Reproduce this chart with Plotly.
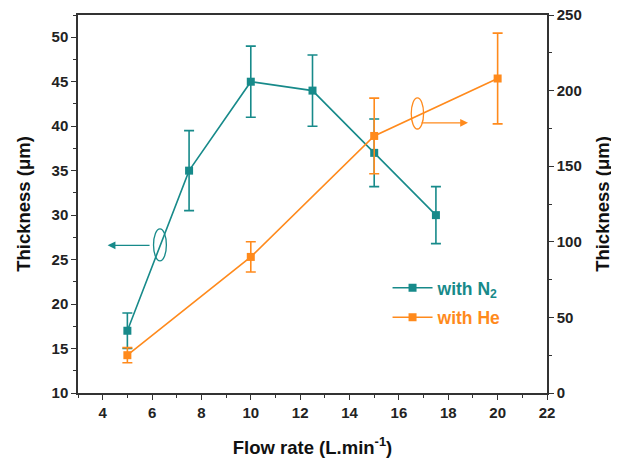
import plotly.graph_objects as go
from plotly.subplots import make_subplots

# 데이터
flow_n2 = [5, 7.5, 10, 12.5, 15, 17.5]
thick_n2 = [17, 35, 45, 44, 37, 30]
err_n2 = [2, 4.5, 4, 4, 3.8, 3.2]

flow_he = [5, 10, 15, 20]
thick_he = [25, 90, 170, 208]
err_he = [5, 10, 25, 30]

teal = '#178a8a'
orange = '#ff8a1c'
font_family = 'Liberation Sans, Arial, sans-serif'

fig = make_subplots(specs=[[{"secondary_y": True}]])

fig.add_trace(
    go.Scatter(
        x=flow_n2, y=thick_n2, mode='lines+markers', name='with N<sub>2</sub>',
        line=dict(color=teal, width=1.6),
        marker=dict(symbol='square', size=8, color=teal),
        error_y=dict(type='data', array=err_n2, color=teal, thickness=1.6, width=5),
        legend='legend'
    ), secondary_y=False
)

fig.add_trace(
    go.Scatter(
        x=flow_he, y=thick_he, mode='lines+markers', name='with He',
        line=dict(color=orange, width=1.6),
        marker=dict(symbol='square', size=8, color=orange),
        error_y=dict(type='data', array=err_he, color=orange, thickness=1.6, width=5),
        legend='legend2'
    ), secondary_y=True
)

# 타원 + 화살표 (어느 축인지 표시)
fig.add_shape(type='circle', xref='x', yref='y', x0=6.06, x1=6.58, y0=24.85, y1=28.45,
              line=dict(color=teal, width=1.3))
fig.add_annotation(x=4.2, y=26.6, ax=6.02, ay=26.6, xref='x', yref='y', axref='x', ayref='y',
                   showarrow=True, arrowhead=2, arrowsize=1.2, arrowwidth=1.3, arrowcolor=teal, text=' ')
fig.add_shape(type='circle', xref='x', yref='y2', x0=16.5, x1=17.0, y0=174.6, y1=195.2,
              line=dict(color=orange, width=1.3))
fig.add_annotation(x=18.8, y=178.7, ax=16.8, ay=178.7, xref='x', yref='y2', axref='x', ayref='y2',
                   showarrow=True, arrowhead=2, arrowsize=1.2, arrowwidth=1.3, arrowcolor=orange, text=' ')

tick_font = dict(family=font_family, size=15, color='#222', weight='bold')
title_font = dict(family=font_family, size=18.5, color='#111', weight='bold')

# 페이지 body 여백(8px)을 감안해서 크기 설정
fig.update_layout(
    width=611, height=451,
    margin=dict(l=70, r=72, t=7, b=66),
    plot_bgcolor='white', paper_bgcolor='white',
    showlegend=True,
    legend=dict(x=0.66, y=0.278, xanchor='left', yanchor='middle', bgcolor='rgba(0,0,0,0)',
                itemwidth=40,
                font=dict(family=font_family, size=17.5, color=teal, weight='bold')),
    legend2=dict(x=0.66, y=0.2, xanchor='left', yanchor='middle', bgcolor='rgba(0,0,0,0)',
                 itemwidth=40,
                 font=dict(family=font_family, size=17.5, color=orange, weight='bold')),
)

fig.update_xaxes(
    domain=[0, 1],
    range=[3, 22], tick0=4, dtick=2, ticks='outside', ticklen=5, tickwidth=1.3,
    minor=dict(dtick=1, ticks='outside', ticklen=3, tickcolor='#333'),
    showline=True, linecolor='#333', linewidth=1.5, mirror=True, showgrid=False, zeroline=False,
    tickfont=tick_font, tickcolor='#333', automargin=False, ticklabeloverflow='allow',
    title=dict(text='Flow rate (L.min<sup>-1</sup>)', font=title_font, standoff=21),
)

fig.update_yaxes(
    range=[10, 52.5], tick0=10, dtick=5, ticks='outside', ticklen=5, tickwidth=1.3,
    minor=dict(dtick=2.5, ticks='outside', ticklen=3, tickcolor='#333'),
    showline=True, linecolor='#333', linewidth=1.5, showgrid=False, zeroline=False,
    tickfont=tick_font, tickcolor='#333', automargin=False, ticklabeloverflow='allow',
    title=dict(text='Thickness (μm)', font=title_font, standoff=16),
    secondary_y=False
)
fig.update_yaxes(
    range=[0, 250], tick0=0, dtick=50, ticks='outside', ticklen=5, tickwidth=1.3,
    minor=dict(dtick=25, ticks='outside', ticklen=3, tickcolor='#333'),
    showline=True, linecolor='#333', linewidth=1.5, showgrid=False, zeroline=False,
    tickfont=tick_font, tickcolor='#333', automargin=False, ticklabeloverflow='allow',
    title=dict(text='Thickness (μm)', font=title_font, standoff=15),
    secondary_y=True
)

fig.write_html("out.html")
